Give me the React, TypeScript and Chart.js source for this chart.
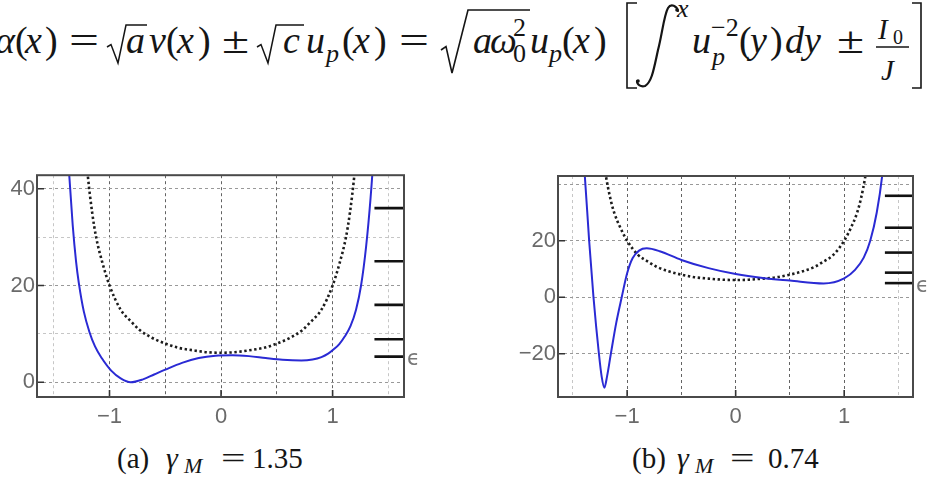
import React, { useEffect, useRef } from "react";
import { Chart, registerables } from "chart.js";

Chart.register(...registerables);

// ---------- data ----------
const gridXValues = [-1.5, -1, -0.5, 0, 0.5, 1, 1.5];
const labelledX = [-1, 0, 1];

// dotted reference well (same in both panels)
const wellX = [-1.26, -1.195, -1.155, -1.12, -1.06, -1.0, -0.9, -0.8, -0.73, -0.62, -0.5, -0.38, -0.25, -0.12, 0, 0.12, 0.25, 0.38, 0.5, 0.62, 0.73, 0.8, 0.9, 1.0, 1.06, 1.12, 1.155, 1.195, 1.26];
const wellY = [60, 42.8, 35, 30, 24.4, 20, 15.0, 12.4, 10.8, 9.2, 8.0, 7.1, 6.6, 6.2, 6.1, 6.2, 6.6, 7.1, 8.0, 9.2, 10.8, 12.4, 15.0, 20, 24.4, 30, 35, 42.8, 60];

// panel (a): γM = 1.35
const potentialAX = [-1.42, -1.39, -1.36, -1.33, -1.3, -1.275, -1.23, -1.18, -1.13, -1.07, -0.985, -0.9, -0.81, -0.7, -0.6, -0.5, -0.35, -0.2, -0.05, 0.1, 0.25, 0.4, 0.55, 0.72, 0.82, 0.9, 0.96, 1.01, 1.06, 1.11, 1.16, 1.21, 1.255, 1.3, 1.34, 1.37, 1.4];
const potentialAY = [70, 54, 42.5, 32.5, 25, 20.5, 14.6, 10.4, 7.4, 5.0, 2.4, 0.8, 0, 0.6, 1.6, 2.6, 4.0, 5.0, 5.5, 5.6, 5.4, 5.0, 4.65, 4.5, 4.7, 5.2, 5.9, 6.8, 7.9, 9.5, 11.6, 15, 20, 28, 38, 48, 62];
const levelsA = [5.3, 8.9, 16, 25, 36];
const yGridA = [0, 10, 20, 30, 40];
const yLabelsA = [0, 20, 40];

// panel (b): γM = 0.74
const potentialBX = [-1.42, -1.39, -1.35, -1.31, -1.26, -1.235, -1.21, -1.185, -1.15, -1.1, -1.05, -1.0, -0.95, -0.89, -0.82, -0.7, -0.5, -0.25, 0, 0.25, 0.5, 0.81, 1.0, 1.1, 1.18, 1.24, 1.3, 1.35, 1.38];
const potentialBY = [56, 43, 20, 0, -20, -28, -32, -28, -20, -9, 0, 8.5, 13.8, 16.5, 17.3, 16.3, 13.2, 10.3, 8.2, 6.8, 5.9, 4.9, 6.7, 9.7, 14, 20, 30, 43, 56];
const levelsB = [5.0, 8.7, 15.8, 24.6, 35.9];
const yGridB = [-20, 0, 20, 40];
const yLabelsB = [-20, 0, 20];

const levelStartX = 1.375;

// ---------- styling ----------
const INK = "#151515";
const TICK_GRAY = "#6a6a6a";
const SERIF = '"Liberation Serif", "Times New Roman", serif';
const SANS = '"Liberation Sans", Arial, sans-serif';

const fmt = (v: number) => (v < 0 ? "\u2212" + Math.abs(v) : String(v));

const framePlugin = {
  id: "panelFrame",
  afterDraw(chart: any, _args: any, opts: any) {
    const { ctx, chartArea: a, scales } = chart;
    ctx.save();
    ctx.strokeStyle = "#333";
    ctx.lineWidth = 1.6;
    ctx.beginPath();
    for (const v of opts.xMarks) {
      const px = scales.x.getPixelForValue(v);
      ctx.moveTo(px, a.bottom);
      ctx.lineTo(px, a.bottom - 7);
    }
    for (const v of opts.yMarks) {
      const py = scales.y.getPixelForValue(v);
      ctx.moveTo(a.left, py);
      ctx.lineTo(a.left + 7, py);
    }
    ctx.stroke();
    ctx.strokeStyle = "#4a4a4a";
    ctx.lineWidth = 2;
    ctx.strokeRect(a.left, a.top, a.right - a.left, a.bottom - a.top);
    ctx.fillStyle = "#777";
    ctx.font = '21px "DejaVu Sans"';
    ctx.textBaseline = "middle";
    ctx.textAlign = "left";
    ctx.fillText("\u03F5", a.right + 3, scales.y.getPixelForValue(opts.groundLevel) + 3);
    ctx.restore();
  },
};

type PanelCfg = {
  xMin: number; xMax: number; yMin: number; yMax: number;
  curveX: number[]; curveY: number[]; levels: number[];
  yGrid: number[]; yLabels: number[]; yMajor: (v: number) => boolean;
  yAxisWidth: number; padTop: number; padRight: number;
};

function buildConfig(p: PanelCfg): any {
  const pts = (xs: number[], ys: number[]) => xs.map((x, i) => ({ x, y: ys[i] }));
  return {
    type: "line",
    data: {
      datasets: [
        {
          data: pts(wellX, wellY),
          borderColor: "#1c1c1c",
          borderWidth: 2.6,
          borderDash: [2.4, 2.6],
          pointRadius: 0,
          cubicInterpolationMode: "monotone",
          order: 2,
        },
        {
          data: pts(p.curveX, p.curveY),
          borderColor: "#2a2ad4",
          borderWidth: 2,
          pointRadius: 0,
          cubicInterpolationMode: "monotone",
          order: 1,
        },
        ...p.levels.map((lv) => ({
          data: [{ x: levelStartX, y: lv }, { x: p.xMax, y: lv }],
          borderColor: "#111",
          borderWidth: 2.6,
          pointRadius: 0,
          order: 0,
        })),
      ],
    },
    options: {
      responsive: false,
      animation: false,
      events: [],
      layout: { padding: { top: p.padTop, right: p.padRight, left: 0, bottom: 0 } },
      plugins: {
        legend: { display: false },
        tooltip: { enabled: false },
        panelFrame: { xMarks: labelledX, yMarks: p.yLabels, groundLevel: p.levels[0] },
      },
      scales: {
        x: {
          type: "linear",
          min: p.xMin,
          max: p.xMax,
          afterBuildTicks: (s: any) => { s.ticks = gridXValues.map((value) => ({ value })); },
          afterFit: (s: any) => { s.height = 33; },
          ticks: {
            autoSkip: false,
            maxRotation: 0,
            padding: 7,
            color: TICK_GRAY,
            font: { family: SANS, size: 22 },
            callback: (v: number) => (labelledX.includes(v) ? fmt(v) : ""),
          },
          grid: {
            drawTicks: false,
            lineWidth: 1,
            color: (c: any) => (Math.abs(c.tick.value) === 1.5 ? "#c6c6c6" : "rgba(60,60,60,0.8)"),
          },
          border: { display: false, dash: [3, 3] },
        },
        y: {
          type: "linear",
          min: p.yMin,
          max: p.yMax,
          afterBuildTicks: (s: any) => { s.ticks = p.yGrid.map((value) => ({ value })); },
          afterFit: (s: any) => { s.width = p.yAxisWidth; },
          ticks: {
            padding: 2,
            color: TICK_GRAY,
            font: { family: SANS, size: 22 },
            callback: (v: number) => (p.yLabels.includes(v) ? fmt(v) : ""),
          },
          grid: {
            drawTicks: false,
            lineWidth: 1,
            color: (c: any) => (p.yMajor(c.tick.value) ? "#999" : "#c6c6c6"),
          },
          border: { display: false, dash: [3, 3] },
        },
      },
    },
    plugins: [framePlugin],
  };
}

function Panel({ left, top, width, height, cfg }: { left: number; top: number; width: number; height: number; cfg: PanelCfg }) {
  const ref = useRef<HTMLCanvasElement>(null);
  useEffect(() => {
    const chart = new Chart(ref.current as HTMLCanvasElement, buildConfig(cfg));
    return () => chart.destroy();
  }, []);
  return (
    <canvas
      ref={ref}
      width={width}
      height={height}
      style={{ position: "absolute", left, top, width, height }}
    />
  );
}

// a piece of math text placed by its baseline
function G({ x, b, s = 38, i = false, sx, children }: any) {
  return (
    <span
      style={{
        position: "absolute",
        left: x,
        top: b - 0.8375 * s,
        fontSize: s,
        lineHeight: 1,
        fontFamily: SERIF,
        fontStyle: i ? "italic" : "normal",
        whiteSpace: "pre",
        color: INK,
        transform: sx ? `scaleX(${sx})` : undefined,
        transformOrigin: "left center",
      }}
    >
      {children}
    </span>
  );
}

function Formula() {
  const B = 53;
  const sup = 37;
  const sub = 63;
  return (
    <>
      <G x={-5} b={B} i>α</G>
      <G x={15} b={B}>(</G>
      <G x={25} b={B} i>x</G>
      <G x={45} b={B}>)</G>
      <G x={69} b={B} sx={1.4}>=</G>
      <G x={126} b={B} i>a</G>
      <G x={149} b={B} i>v</G>
      <G x={166} b={B}>(</G>
      <G x={177} b={B} i>x</G>
      <G x={198} b={B}>)</G>
      <G x={222} b={B} sx={1.3}>±</G>
      <G x={283} b={B} i>c</G>
      <G x={306} b={B} i>u</G>
      <G x={326} b={sub} s={26} i>p</G>
      <G x={342} b={B}>(</G>
      <G x={353} b={B} i>x</G>
      <G x={374} b={B}>)</G>
      <G x={399} b={B} sx={1.4}>=</G>
      <G x={473} b={B} i>a</G>
      <G x={490} b={B} i>ω</G>
      <G x={513} b={sup} s={26}>2</G>
      <G x={513} b={sub} s={26}>0</G>
      <G x={530} b={B} i>u</G>
      <G x={549} b={sub} s={26} i>p</G>
      <G x={562} b={B}>(</G>
      <G x={573} b={B} i>x</G>
      <G x={594} b={B}>)</G>
      <G x={677} b={18} s={26} i>x</G>
      <G x={692} b={B} i>u</G>
      <G x={711} b={sup} s={26}>−2</G>
      <G x={712} b={sub + 3} s={26} i>p</G>
      <G x={739} b={B}>(</G>
      <G x={750} b={B} i>y</G>
      <G x={770} b={B}>)</G>
      <G x={785} b={B} i>dy</G>
      <G x={837} b={B} sx={1.3}>±</G>
      <G x={878} b={39} s={29} i>I</G>
      <G x={893} b={44} s={20}>0</G>
      <G x={881} b={80} s={29} i>J</G>
      <svg
        width={937}
        height={100}
        style={{ position: "absolute", left: 0, top: 0, overflow: "visible" }}
        fill="none"
        stroke={INK}
        strokeLinejoin="miter"
      >
        {/* radicals */}
        <path d="M107 47 L111 44.5 L118 63 L126 25 L147 25" strokeWidth={1.5} />
        <path d="M257 47 L261 44.5 L268 63 L276 25 L304 25" strokeWidth={1.5} />
        <path d="M441 50 L446 46.5 L452 73 L468 10 L530 10" strokeWidth={1.6} />
        {/* brackets */}
        <path d="M637 3 L627 3 L627 88 L637 88" strokeWidth={1.6} />
        <path d="M912 3 L921 3 L921 88 L912 88" strokeWidth={1.6} />
        {/* integral sign */}
        <path
          d="M678 11 C677 6 671 3 668 8 C664 15 662 35 658 50 C654 68 652 82 645 86 C641 87 637 85 637 81"
          strokeWidth={2.2}
          strokeLinecap="round"
        />
        <circle cx={677} cy={10} r={1.8} fill={INK} stroke="none" />
        <circle cx={638} cy={81} r={1.8} fill={INK} stroke="none" />
        {/* fraction bar */}
        <path d="M876 47 L909 47" strokeWidth={1.3} />
      </svg>
    </>
  );
}

function Captions() {
  const b = 468;
  return (
    <>
      <G x={117} b={b} s={29}>(a)</G>
      <G x={166} b={b} s={30} i>γ</G>
      <G x={184} b={b + 5} s={22} i>M</G>
      <G x={221} b={b} s={29} sx={1.5}>=</G>
      <G x={252} b={b} s={29}>1.35</G>
      <G x={632} b={b} s={29}>(b)</G>
      <G x={677} b={b} s={30} i>γ</G>
      <G x={695} b={b + 5} s={22} i>M</G>
      <G x={730} b={b} s={29} sx={1.5}>=</G>
      <G x={768} b={b} s={29}>0.74</G>
    </>
  );
}

const panelA: PanelCfg = {
  xMin: -1.65, xMax: 1.64, yMin: -3.05, yMax: 42.8,
  curveX: potentialAX, curveY: potentialAY, levels: levelsA,
  yGrid: yGridA, yLabels: yLabelsA, yMajor: (v) => v % 20 === 0,
  yAxisWidth: 37, padTop: 11, padRight: 36,
};

const panelB: PanelCfg = {
  xMin: -1.637, xMax: 1.634, yMin: -35.3, yMax: 42.9,
  curveX: potentialBX, curveY: potentialBY, levels: levelsB,
  yGrid: yGridB, yLabels: yLabelsB, yMajor: () => true,
  yAxisWidth: 58, padTop: 16, padRight: 24,
};

export default function App() {
  return (
    <div
      style={{
        position: "absolute",
        left: 0,
        top: 0,
        width: 937,
        height: 480,
        overflow: "hidden",
        background: "#fff",
      }}
    >
      <Formula />
      <Panel left={0} top={160} width={440} height={270} cfg={panelA} />
      <Panel left={500} top={160} width={437} height={270} cfg={panelB} />
      <Captions />
    </div>
  );
}
